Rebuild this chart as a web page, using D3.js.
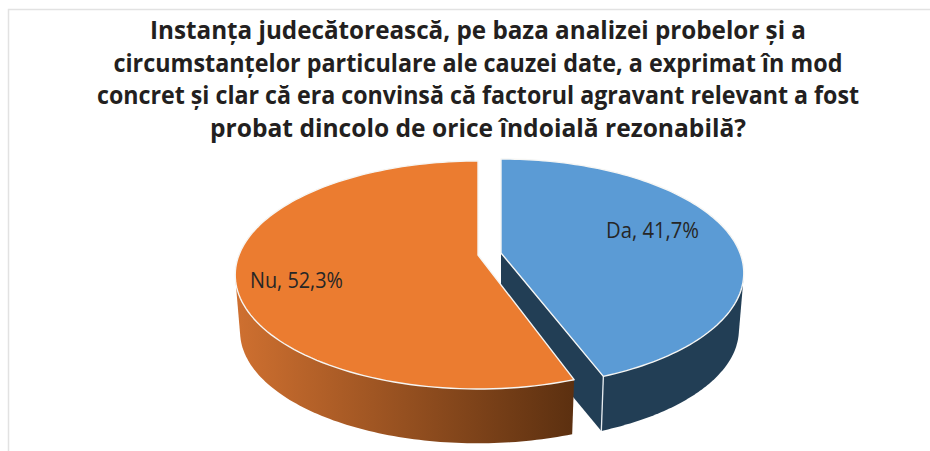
<!DOCTYPE html>
<html><head><meta charset="utf-8">
<style>html,body{margin:0;padding:0;background:#fff}svg{display:block}</style>
<script src="https://cdn.jsdelivr.net/npm/d3@7/dist/d3.min.js"></script>
</head><body><svg id="c" width="930" height="451"></svg>
<script>
const categories = ["Da", "Nu"];
const values = [41.7, 52.3];
const valueLabels = ["41,7%", "52,3%"];
const titleLines = [
  "Instanța judecătorească, pe baza analizei probelor și a",
  "circumstanțelor particulare ale cauzei date, a exprimat în mod",
  "concret și clar că era convinsă că factorul agravant relevant a fost",
  "probat dincolo de orice îndoială rezonabilă?"
];
const titleWidths = [656, 729, 762, 536];
const topColors = ["#5b9bd5", "#eb7c30"];

const svg = d3.select("#c");
const RX = 239, RY = 110.5, K = 0.1754, DEPTH = 57, SHRINK = 0.98, TRIM = 0.012;
const centers = [{x: 501, y: 253}, {x: 478, y: 255}];
const labelPos = [{x: 606, y: 238}, {x: 250, y: 288}];

// frame
svg.append("path").attr("d", "M8.5,451V9.5H930").attr("fill", "none").attr("stroke", "#e2e2e2").attr("stroke-width", 1.5);

// title
svg.append("g").selectAll("text").data(titleLines).join("text")
  .attr("x", 478).attr("y", (d, i) => 39 + i * 32.7)
  .attr("text-anchor", "middle")
  .attr("textLength", (d, i) => titleWidths[i]).attr("lengthAdjust", "spacingAndGlyphs")
  .attr("font-family", "'Open Sans'").attr("font-weight", 700).attr("font-size", 24.5)
  .attr("fill", "#231f20").text(d => d);

// gradient for the orange wall
const grad = svg.append("defs").append("linearGradient").attr("id", "og")
  .attr("gradientUnits", "userSpaceOnUse").attr("x1", 235).attr("x2", 573).attr("y1", 0).attr("y2", 0);
grad.append("stop").attr("offset", 0).attr("stop-color", "#cf7030");
grad.append("stop").attr("offset", 1).attr("stop-color", "#5c3010");

// perspective projection of a point on the pie disc
function proj(c, a, r, bottom) {
  const u = Math.sin(a) * r, v = -Math.cos(a) * r, w = 1 - K * v;
  const s = bottom ? SHRINK : 1;
  return [c.x + s * RX * u / w, c.y + (bottom ? DEPTH : 0) + s * RY * v / w];
}
const line = d3.line();
const arcs = d3.pie().sort(null)(values);
arcs[0].endAngle -= TRIM;
arcs[1].startAngle += TRIM;
const samples = (a0, a1) => d3.range(0, 121).map(i => a0 + (a1 - a0) * i / 120);

function face(c, d) {
  return [proj(c, 0, 0, false), ...samples(d.startAngle, d.endAngle).map(a => proj(c, a, 1, false))];
}
// the outer wall is the hull of the part of the rim that faces the viewer,
// so the silhouette joins the two rims with a straight tangent
function wall(c, a0, a1) {
  const s = samples(a0, a1);
  return d3.polygonHull([...s.map(a => proj(c, a, 1, false)), ...s.map(a => proj(c, a, 1, true))]);
}
const sideFill = ["#223e55", "url(#og)"];
const wallRange = [d => [d.startAngle + 1.2, d.endAngle], d => [d.startAngle, d.endAngle - 1.2]];
arcs.forEach((d, i) => {
  const c = centers[i];
  if (i === 0) {
    svg.append("path").attr("d", line([
      proj(c, 0, 0, false), proj(c, d.endAngle, 1, false),
      proj(c, d.endAngle, 1, true), proj(c, 0, 0, true)]) + "Z").attr("fill", sideFill[i]);
  }
  const [a0, a1] = wallRange[i](d);
  svg.append("path").attr("d", line(wall(c, a0, a1)) + "Z").attr("fill", sideFill[i]);
  if (i === 0) {
    svg.append("path").attr("d", line([proj(c, d.endAngle, 1, false), proj(c, d.endAngle, 1, true)]))
      .attr("stroke", "#e8edf1").attr("stroke-width", 1.3).attr("fill", "none");
  }
  svg.append("path").attr("d", line(face(c, d)) + "Z")
    .attr("fill", topColors[i]).attr("stroke", "#f6f6f4").attr("stroke-width", 1.4).attr("stroke-linejoin", "round");
});

// labels
svg.append("g").selectAll("text").data(categories).join("text")
  .attr("x", (d, i) => labelPos[i].x).attr("y", (d, i) => labelPos[i].y)
  .attr("textLength", 93).attr("lengthAdjust", "spacingAndGlyphs")
  .attr("font-family", "'Open Sans'").attr("font-size", 21).attr("fill", "#262626")
  .text((d, i) => d + ", " + valueLabels[i]);
</script></body></html>
